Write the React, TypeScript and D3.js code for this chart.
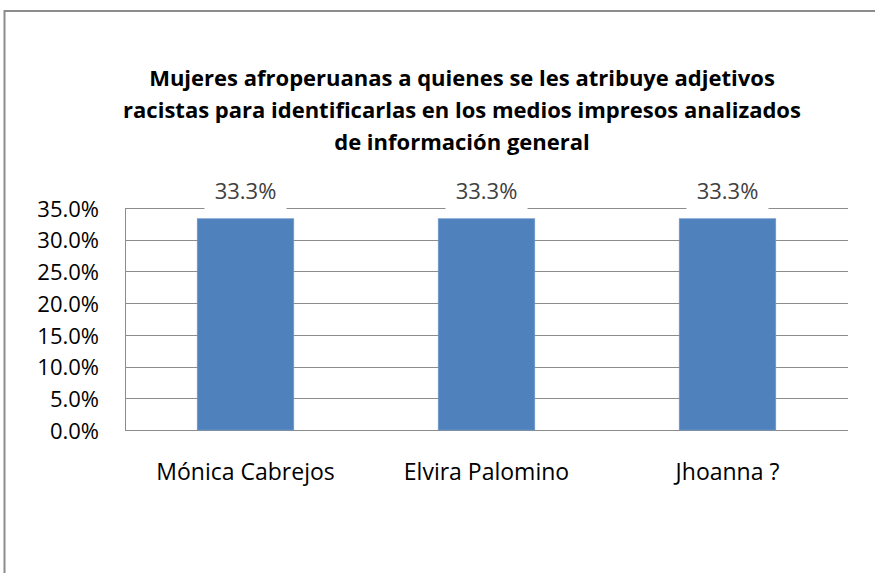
import React, { useEffect, useRef } from "react";
import * as d3 from "d3";

const categories = ["Mónica Cabrejos", "Elvira Palomino", "Jhoanna ?"];
const values = [33.3, 33.3, 33.3];
const yTicks = [0, 5, 10, 15, 20, 25, 30, 35];
const titleLines = [
  "Mujeres afroperuanas a quienes se les atribuye adjetivos",
  "racistas para identificarlas en los medios impresos analizados",
  "de información general",
];

export default function App() {
  const ref = useRef<SVGSVGElement>(null);

  useEffect(() => {
    const svg = d3.select(ref.current);
    svg.selectAll("*").remove();

    const font = "'Open Sans', 'Liberation Sans', Arial, sans-serif";
    const left = 125;
    const right = 848;
    const top = 208;
    const bottom = 430;

    svg.append("rect").attr("width", 875).attr("height", 573).attr("fill", "#fff");

    // chart border (runs off the right and bottom edge)
    svg
      .append("path")
      .attr("d", "M4.5,600 L4.5,11 L900,11")
      .attr("fill", "none")
      .attr("stroke", "#8c8c8c")
      .attr("stroke-width", 2);

    const x = d3.scaleBand().domain(categories).range([left, right]).paddingInner(0.6).paddingOuter(0.3);
    const y = d3.scaleLinear().domain([0, 35]).range([bottom, top]);

    // gridlines
    svg
      .append("g")
      .selectAll("line")
      .data(yTicks)
      .join("line")
      .attr("x1", left)
      .attr("x2", right)
      .attr("y1", (d) => Math.round(y(d)) + 0.5)
      .attr("y2", (d) => Math.round(y(d)) + 0.5)
      .attr("stroke", "#8c8c8c")
      .attr("stroke-width", 1);

    svg
      .append("line")
      .attr("x1", left + 0.5)
      .attr("x2", left + 0.5)
      .attr("y1", top)
      .attr("y2", bottom)
      .attr("stroke", "#8c8c8c");

    // y labels
    svg
      .append("g")
      .selectAll("text")
      .data(yTicks)
      .join("text")
      .attr("x", 99)
      .attr("y", (d) => y(d) + 1)
      .attr("dy", "0.35em")
      .attr("text-anchor", "end")
      .attr("font-family", font)
      .attr("font-size", 22)
      .attr("fill", "#000")
      .text((d) => d.toFixed(1) + "%");

    // bars
    svg
      .append("g")
      .selectAll("rect")
      .data(values)
      .join("rect")
      .attr("x", (_, i) => x(categories[i])!)
      .attr("width", x.bandwidth())
      .attr("y", (d) => y(d))
      .attr("height", (d) => bottom - y(d))
      .attr("fill", "#4f81bd")
      .attr("stroke", "#6c97c9")
      .attr("stroke-width", 0.8);

    // value labels with white background
    const lab = svg.append("g").selectAll("g").data(values).join("g");
    lab
      .append("rect")
      .attr("x", (_, i) => x(categories[i])! + x.bandwidth() / 2 - 41)
      .attr("y", (d) => y(d) - 38)
      .attr("width", 82)
      .attr("height", 32)
      .attr("fill", "#fff");
    lab
      .append("text")
      .attr("x", (_, i) => x(categories[i])! + x.bandwidth() / 2)
      .attr("y", (d) => y(d) - 27)
      .attr("dy", "0.35em")
      .attr("text-anchor", "middle")
      .attr("font-family", font)
      .attr("font-size", 22)
      .attr("fill", "#404040")
      .text((d) => d.toFixed(1) + "%");

    // x labels
    svg
      .append("g")
      .selectAll("text")
      .data(categories)
      .join("text")
      .attr("x", (d) => x(d)! + x.bandwidth() / 2)
      .attr("y", 472)
      .attr("dy", "0.35em")
      .attr("text-anchor", "middle")
      .attr("font-family", font)
      .attr("font-size", 23)
      .attr("fill", "#000")
      .text((d) => d);

    // title
    svg
      .append("g")
      .selectAll("text")
      .data(titleLines)
      .join("text")
      .attr("x", 462)
      .attr("y", (_, i) => 78 + i * 32)
      .attr("dy", "0.35em")
      .attr("text-anchor", "middle")
      .attr("font-family", font)
      .attr("font-weight", "bold")
      .attr("font-size", 22)
      .attr("fill", "#000")
      .text((d) => d);
  }, []);

  return (
    <svg
      ref={ref}
      width={875}
      height={573}
      style={{ position: "absolute", left: 0, top: 0, display: "block" }}
    ></svg>
  );
}
